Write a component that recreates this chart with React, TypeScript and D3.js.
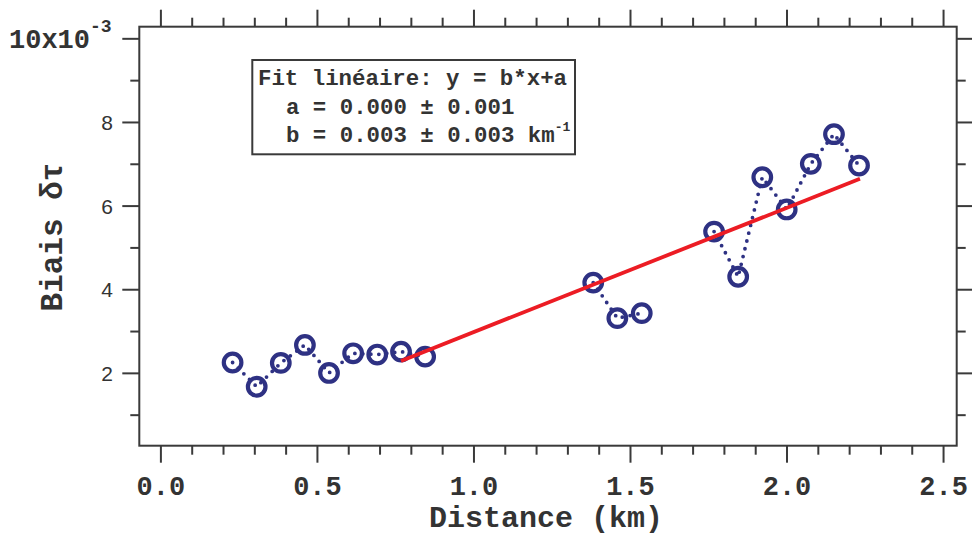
import React from "react";
import * as d3 from "d3";

// distance (km)
const distances = [0.229, 0.306, 0.383, 0.46, 0.537, 0.614, 0.691, 0.767, 0.844, 1.381, 1.458, 1.536, 1.767, 1.844, 1.921, 1.999, 2.076, 2.15, 2.23];
// bias (x10^-3)
const biases = [2.26, 1.68, 2.25, 2.68, 2.01, 2.48, 2.45, 2.52, 2.4, 4.17, 3.32, 3.44, 5.39, 4.31, 6.69, 5.92, 7.01, 7.72, 6.97];
// group index for dotted connecting line (gaps between groups)
const groups = [0, 0, 0, 0, 0, 0, 0, 0, 0, 1, 1, 1, 2, 2, 2, 2, 2, 2, 2];

const fitA = 0.02;
const fitB = 2.97;
const fitRange = [0.767, 2.233];

const xMajorTicks = [0, 0.5, 1, 1.5, 2, 2.5];
const xTickLabels = ["0.0", "0.5", "1.0", "1.5", "2.0", "2.5"];
const yMajorTicks = [2, 4, 6, 8, 10];
const yTickLabels = ["2", "4", "6", "8", ""];
const yMinorTicks = [1, 3, 5, 7, 9];

const W = 972;
const H = 536;
const L = 139.3, R = 956.7, T = 26.7, B = 445.7;

export default function App() {
  const x = d3.scaleLinear().domain([-0.069, 2.542]).range([L, R]);
  const y = d3.scaleLinear().domain([0.27, 10.29]).range([B, T]);
  const xMinor = d3.range(0, 26).map((i) => i / 10).filter((v) => Math.abs(v * 2 - Math.round(v * 2)) > 1e-6);

  const pts = distances.map((d, i) => ({ x: d, y: biases[i], g: groups[i] }));
  const groupIds = Array.from(new Set(groups));
  const line = d3.line<{ x: number; y: number }>().x((d) => x(d.x)).y((d) => y(d.y));
  const fitPts = fitRange.map((v) => ({ x: v, y: fitA + fitB * v }));

  const axisColor = "#3a3a3a";
  const navy = "#2e3183";
  const mono = "'Liberation Mono', 'Courier New', monospace";

  return (
    <svg width={W} height={H} style={{ position: "absolute", left: 0, top: 0, background: "#fff" }}>
      <rect x={0} y={0} width={W} height={H} fill="#fff" />
      {/* x ticks bottom & top */}
      {xMajorTicks.map((t) => (
        <g key={"xm" + t}>
          <line x1={x(t)} x2={x(t)} y1={B} y2={B + 17} stroke={axisColor} strokeWidth={2} />
          <line x1={x(t)} x2={x(t)} y1={T} y2={T - 17} stroke={axisColor} strokeWidth={2} />
        </g>
      ))}
      {xMinor.map((t) => (
        <g key={"xn" + t}>
          <line x1={x(t)} x2={x(t)} y1={B} y2={B + 9} stroke={axisColor} strokeWidth={2} />
          <line x1={x(t)} x2={x(t)} y1={T} y2={T - 9} stroke={axisColor} strokeWidth={2} />
        </g>
      ))}
      {xMajorTicks.map((t, i) => (
        <text key={"xl" + t} x={x(t)} y={495} textAnchor="middle" fontFamily={mono} fontWeight="bold" fontSize={27} fill="#333">
          {xTickLabels[i]}
        </text>
      ))}
      {/* y ticks left & right */}
      {yMajorTicks.map((t) => (
        <g key={"ym" + t}>
          <line x1={L} x2={L - 17} y1={y(t)} y2={y(t)} stroke={axisColor} strokeWidth={2} />
          <line x1={R} x2={R + 17} y1={y(t)} y2={y(t)} stroke={axisColor} strokeWidth={2} />
        </g>
      ))}
      {yMinorTicks.map((t) => (
        <g key={"yn" + t}>
          <line x1={L} x2={L - 9} y1={y(t)} y2={y(t)} stroke={axisColor} strokeWidth={2} />
          <line x1={R} x2={R + 9} y1={y(t)} y2={y(t)} stroke={axisColor} strokeWidth={2} />
        </g>
      ))}
      {yMajorTicks.map((t, i) =>
        yTickLabels[i] ? (
          <text key={"yl" + t} x={113} y={y(t) + 7.5} textAnchor="end" fontFamily="'Liberation Sans', Arial, sans-serif" fontSize={21} fill="#333">
            {yTickLabels[i]}
          </text>
        ) : null
      )}
      <text x={9} y={48} fontFamily={mono} fontWeight="bold" fontSize={27} fill="#333">
        10x10
        <tspan dy={-16} fontSize={18}>-3</tspan>
      </text>
      {/* frame */}
      <rect x={L} y={T} width={R - L} height={B - T} fill="none" stroke={axisColor} strokeWidth={2} />
      {/* axis titles */}
      <text x={(L + R) / 2 - 2} y={527} textAnchor="middle" fontFamily={mono} fontWeight="bold" fontSize={30} fill="#333">
        Distance (km)
      </text>
      <text transform={`translate(62,237) rotate(-90)`} textAnchor="middle" fontFamily={mono} fontWeight="bold" fontSize={31} fill="#333">
        Biais δτ
      </text>
      {/* dotted connecting lines */}
      {groupIds.map((g) => (
        <path key={"ln" + g} d={line(pts.filter((p) => p.g === g)) || ""} fill="none" stroke={navy} strokeWidth={3.8} strokeDasharray="0 8" strokeLinecap="round" />
      ))}
      {/* markers */}
      {pts.map((p, i) => (
        <circle key={"c" + i} cx={x(p.x)} cy={y(p.y)} r={8.8} fill="none" stroke={navy} strokeWidth={4.2} />
      ))}
      {/* fit line */}
      <path d={line(fitPts) || ""} fill="none" stroke="#ec1c24" strokeWidth={3.8} />
      {/* legend */}
      <rect x={252.3} y={60} width={322.7} height={94.3} fill="#fff" stroke={axisColor} strokeWidth={2} />
      <g fontFamily={mono} fontWeight="bold" fontSize={22.4} fill="#333">
        <text x={258} y={85}>Fit linéaire: y = b*x+a</text>
        <text x={286} y={114}>a = 0.000 ± 0.001</text>
        <text x={286} y={142}>
          b = 0.003 ± 0.003 km<tspan dy={-11} fontSize={13}>-1</tspan>
        </text>
      </g>
    </svg>
  );
}
